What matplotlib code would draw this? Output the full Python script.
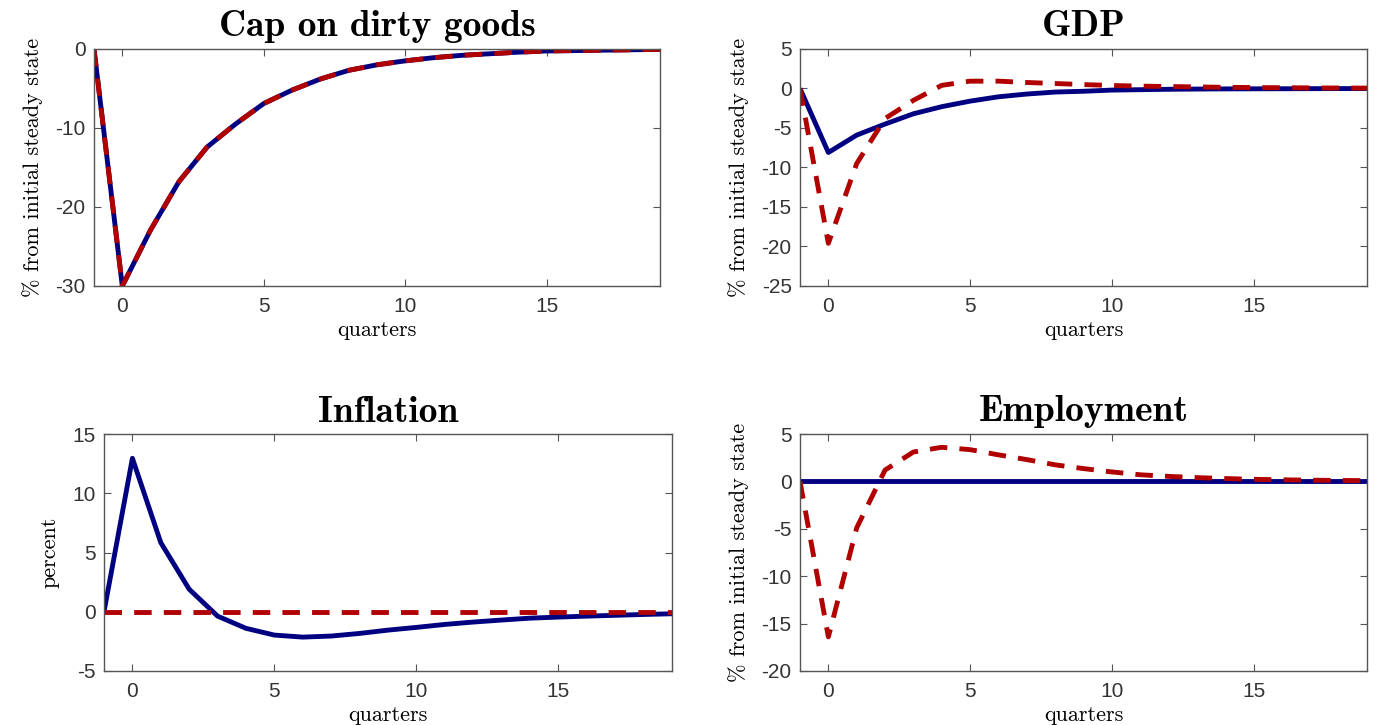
import matplotlib.pyplot as plt
import numpy as np

# Data (impulse responses, quarters -1..19)
quarters = np.arange(-1, 20)

cap_blue = [0, -30, -22.9, -16.8, -12.4, -9.5, -6.9, -5.2, -3.8, -2.7, -2.0,
            -1.5, -1.1, -0.8, -0.6, -0.4, -0.25, -0.2, -0.15, -0.1, -0.05]
cap_red = cap_blue

gdp_blue = [0, -8.1, -5.9, -4.5, -3.2, -2.3, -1.6, -1.05, -0.7, -0.45, -0.35,
            -0.2, -0.15, -0.1, -0.07, -0.05, -0.04, -0.03, -0.02, -0.01, -0.01]
gdp_red = [0, -19.6, -9.5, -3.8, -1.5, 0.4, 0.93, 0.93, 0.76, 0.63, 0.5,
           0.38, 0.3, 0.25, 0.2, 0.15, 0.12, 0.1, 0.08, 0.06, 0.05]

infl_blue = [0, 12.95, 5.83, 1.9, -0.37, -1.4, -1.97, -2.14, -2.05, -1.83, -1.55,
             -1.32, -1.07, -0.87, -0.7, -0.54, -0.45, -0.37, -0.3, -0.23, -0.17]
infl_red = [0] * 21

emp_blue = [0] * 21
emp_red = [0, -16.4, -4.9, 1.2, 3.1, 3.6, 3.35, 2.8, 2.3, 1.75, 1.35,
           1.0, 0.7, 0.53, 0.4, 0.3, 0.22, 0.17, 0.13, 0.1, 0.08]

titles = ['Cap on dirty goods', 'GDP', 'Inflation', 'Employment']
ylabels = ['% from initial steady state', '% from initial steady state',
           'percent', '% from initial steady state']
ylims = [(-30, 0), (-25, 5), (-5, 15), (-20, 5)]
yticks = [[-30, -20, -10, 0], [-25, -20, -15, -10, -5, 0, 5],
          [-5, 0, 5, 10, 15], [-20, -15, -10, -5, 0, 5]]
blues = [cap_blue, gdp_blue, infl_blue, emp_blue]
reds = [cap_red, gdp_red, infl_red, emp_red]

# axes boxes in pixels: left, top, right, bottom
W, H = 1377, 725
boxes = [(94, 49, 660, 286), (800, 49, 1367, 286),
         (104, 434, 672, 671), (800, 434, 1367, 671)]

navy = '#000080'
red = '#b00000'
gray = '#333333'

fig = plt.figure(figsize=(13.77, 7.25), dpi=100)

for i in range(4):
    l, t, r, b = boxes[i]
    ax = fig.add_axes([l / W, 1 - b / H, (r - l) / W, (b - t) / H])
    ax.plot(quarters, blues[i], color=navy, lw=3.5, solid_capstyle='butt')
    ax.plot(quarters, reds[i], color=red, lw=3.5, dashes=(3.6, 2.5))
    ax.set_xlim(-1, 19)
    ax.set_ylim(*ylims[i])
    ax.set_xticks([0, 5, 10, 15])
    ax.set_yticks(yticks[i])
    ax.tick_params(direction='in', top=True, right=True, length=5,
                   colors='#555555', labelcolor=gray)
    ax.tick_params(axis='x', pad=8)
    ax.tick_params(axis='y', pad=6)
    ax.set_yticklabels([str(v) for v in yticks[i]],
                       fontfamily='Liberation Sans', fontsize=15)
    ax.set_xticklabels(['0', '5', '10', '15'],
                       fontfamily='Liberation Sans', fontsize=15)
    for sp in ax.spines.values():
        sp.set_color('#555555')
        sp.set_linewidth(1.0)
    ax.set_title(titles[i], fontfamily='cmb10', fontsize=27, pad=9)
    ax.set_xlabel('quarters', fontfamily='cmr10', fontsize=16, labelpad=3)
    ax.set_ylabel(ylabels[i], fontfamily='cmr10', fontsize=16, labelpad=9)

fig.savefig('out.png', dpi=100)
